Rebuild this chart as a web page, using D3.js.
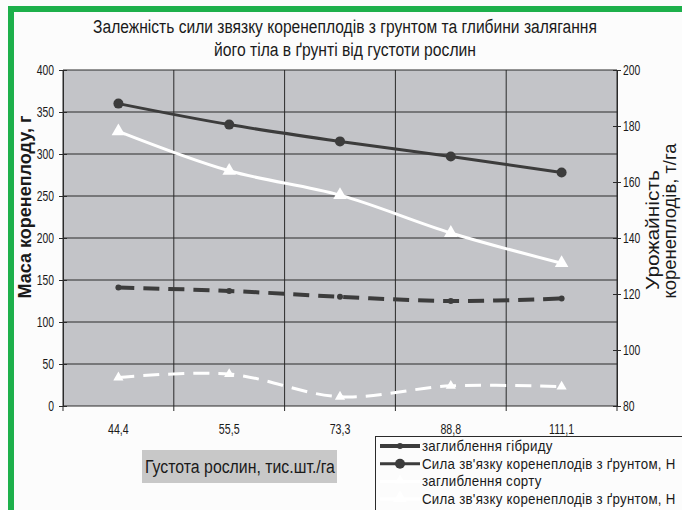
<!DOCTYPE html>
<html>
<head>
<meta charset="utf-8">
<script src="https://cdn.jsdelivr.net/npm/d3@7/dist/d3.min.js"></script>
<style>
  html, body { margin: 0; padding: 0; background: #fcfcfc; }
  svg { display: block; }
  text { font-family: "Liberation Sans", Arial, sans-serif; fill: #1a1a1a; }
</style>
</head>
<body>
<svg id="chart" width="682" height="510"></svg>
<script>
// ---- data ----
const categories = ["44,4", "55,5", "73,3", "88,8", "111,1"];
const depthHybrid = [141, 137, 130, 125, 128];      // заглиблення гібриду
const forceHybrid = [360, 335, 315, 297, 278];      // Сила зв'язку ... (гібрид)
const depthVariety = [34, 38, 11, 24, 23];          // заглиблення сорту
const forceVariety = [327, 280, 251, 206, 170];     // Сила зв'язку ... (сорт)
const leftTicks = [0, 50, 100, 150, 200, 250, 300, 350, 400];
const rightTicks = [80, 100, 120, 140, 160, 180, 200];
const seriesNames = [
  "заглиблення гібриду",
  "Сила зв'язку коренеплодів з ґрунтом, Н",
  "заглиблення сорту",
  "Сила зв'язку коренеплодів з ґрунтом, Н"
];
const titleLines = [
  "Залежність сили звязку коренеплодів з грунтом та глибини залягання",
  "його тіла в ґрунті від густоти рослин"
];

const svg = d3.select("#chart");
const W = 682, H = 510;
const plot = { left: 63, right: 617, top: 70, bottom: 406 };

// squeeze text horizontally (narrow-font look) via a scale transform
function squeeze(sel, px, py, rot, factor) {
  sel.attr("x", 0).attr("y", 0)
    .attr("transform", `translate(${px},${py})` + (rot ? ` rotate(${rot})` : "") + ` scale(${factor},1)`);
}
function squeezeTo(sel, px, py, rot, width) {
  const w = sel.node().getComputedTextLength();
  squeeze(sel, px, py, rot, width / w);
}
function narrow(sel, factor) {
  sel.each(function () {
    const w = this.getComputedTextLength();
    d3.select(this).attr("textLength", w * factor).attr("lengthAdjust", "spacingAndGlyphs");
  });
}

// green frame
svg.append("rect").attr("x", 0).attr("y", 0).attr("width", W).attr("height", H).attr("fill", "#fcfcfc");
svg.append("rect").attr("x", 8).attr("y", 6).attr("width", W + 20).attr("height", 6).attr("fill", "#1db04b");
svg.append("rect").attr("x", 8).attr("y", 6).attr("width", 6).attr("height", H + 20).attr("fill", "#1db04b");

// title
const titleWidths = [504, 262];
titleLines.forEach((t, i) => {
  const el = svg.append("text").attr("text-anchor", "middle").attr("font-size", 19).text(t);
  squeezeTo(el, 345, 33 + i * 23, 0, titleWidths[i]);
});

const x = d3.scaleBand().domain(categories).range([plot.left, plot.right]).paddingInner(0).paddingOuter(0);
const yL = d3.scaleLinear().domain([0, 400]).range([plot.bottom, plot.top]);
const yR = d3.scaleLinear().domain([80, 200]).range([plot.bottom, plot.top]);
const cx = d => x(d) + x.bandwidth() / 2;

// plot background
svg.append("rect").attr("x", plot.left).attr("y", plot.top)
  .attr("width", plot.right - plot.left).attr("height", plot.bottom - plot.top)
  .attr("fill", "#c3c4c8");

// horizontal gridlines
svg.append("g").selectAll("line").data(leftTicks).enter().append("line")
  .attr("x1", plot.left).attr("x2", plot.right)
  .attr("y1", d => yL(d)).attr("y2", d => yL(d))
  .attr("stroke", "#2a2a2a").attr("stroke-width", 1);

// vertical gridlines at category boundaries
const bounds = categories.map(c => x(c)).concat([plot.right]);
svg.append("g").selectAll("line").data(bounds).enter().append("line")
  .attr("x1", d => d).attr("x2", d => d)
  .attr("y1", plot.top).attr("y2", plot.bottom + 5)
  .attr("stroke", "#2a2a2a").attr("stroke-width", 1);

// left axis
const gL = svg.append("g").attr("transform", `translate(${plot.left},0)`)
  .call(d3.axisLeft(yL).tickValues(leftTicks).tickSize(4).tickSizeOuter(0).tickFormat(d3.format("d")));
gL.select(".domain").attr("stroke", "#2a2a2a");
gL.selectAll(".tick line").attr("x2", -4).attr("x1", 4).attr("stroke", "#2a2a2a");
gL.selectAll(".tick text").attr("x", -9).attr("font-size", 14)
  .style("font-family", '"Liberation Sans", Arial, sans-serif').attr("fill", "#1a1a1a");
narrow(gL.selectAll(".tick text"), 0.74);

// right axis
const gR = svg.append("g").attr("transform", `translate(${plot.right},0)`)
  .call(d3.axisRight(yR).tickValues(rightTicks).tickSize(4).tickSizeOuter(0).tickFormat(d3.format("d")));
gR.select(".domain").attr("stroke", "#2a2a2a");
gR.selectAll(".tick line").attr("x1", -4).attr("x2", 4).attr("stroke", "#2a2a2a");
gR.selectAll(".tick text").attr("x", 6).attr("font-size", 14)
  .style("font-family", '"Liberation Sans", Arial, sans-serif').attr("fill", "#1a1a1a");
narrow(gR.selectAll(".tick text"), 0.74);

// x axis labels
const xl = svg.append("g").selectAll("text").data(categories).enter().append("text")
  .attr("x", d => cx(d)).attr("y", 434)
  .attr("text-anchor", "middle").attr("font-size", 14)
  .text(d => d);
narrow(xl, 0.76);

// axis titles
svg.append("text")
  .attr("transform", "translate(31,207) rotate(-90)")
  .attr("text-anchor", "middle").attr("font-size", 18).attr("font-weight", "bold")
  .text("Маса коренеплоду, г");

squeezeTo(svg.append("text").attr("text-anchor", "middle").attr("font-size", 19).text("Урожайність"),
  659, 230, -90, 120);
squeezeTo(svg.append("text").attr("text-anchor", "middle").attr("font-size", 19).text("коренеплодів, т/га"),
  676, 221, -90, 155);

// x title box
svg.append("rect").attr("x", 142).attr("y", 450).attr("width", 195).attr("height", 33).attr("fill", "#c8c8c8");
squeezeTo(svg.append("text").attr("text-anchor", "middle").attr("font-size", 19).text("Густота рослин, тис.шт./га"),
  240, 473, 0, 190);

// series
const series = [
  { name: seriesNames[0], values: depthHybrid, color: "#3c3c3c", width: 4, dash: "16,9", marker: "circle", size: 3 },
  { name: seriesNames[1], values: forceHybrid, color: "#3c3c3c", width: 3, dash: null, marker: "circle", size: 5 },
  { name: seriesNames[2], values: depthVariety, color: "#ffffff", width: 3, dash: "16,9", marker: "triangle", size: 45 },
  { name: seriesNames[3], values: forceVariety, color: "#ffffff", width: 3, dash: null, marker: "triangle", size: 80 }
];

const line = d3.line().x((d, i) => cx(categories[i])).y(d => yL(d)).curve(d3.curveCatmullRom.alpha(0.5));

series.forEach(s => {
  svg.append("path").datum(s.values)
    .attr("d", line)
    .attr("fill", "none")
    .attr("stroke", s.color)
    .attr("stroke-width", s.width)
    .attr("stroke-dasharray", s.dash);
  const g = svg.append("g");
  if (s.marker === "circle") {
    g.selectAll("circle").data(s.values).enter().append("circle")
      .attr("cx", (d, i) => cx(categories[i])).attr("cy", d => yL(d))
      .attr("r", s.size).attr("fill", s.color);
  } else {
    g.selectAll("path").data(s.values).enter().append("path")
      .attr("transform", (d, i) => `translate(${cx(categories[i])},${yL(d)})`)
      .attr("d", d3.symbol().type(d3.symbolTriangle).size(s.size))
      .attr("fill", s.color);
  }
});

// legend
const lg = svg.append("g");
lg.append("rect").attr("x", 375.5).attr("y", 436.5).attr("width", 320).attr("height", 90)
  .attr("fill", "#fcfcfc").attr("stroke", "#2a2a2a").attr("stroke-width", 1);
const legTexts = [];
series.forEach((s, i) => {
  const yy = 446 + i * 17.7;
  lg.append("line").attr("x1", 380).attr("x2", 420).attr("y1", yy).attr("y2", yy)
    .attr("stroke", s.color).attr("stroke-width", s.width);
  if (s.marker === "circle") {
    lg.append("circle").attr("cx", 400).attr("cy", yy).attr("r", s.size).attr("fill", s.color);
  } else {
    lg.append("path").attr("transform", `translate(400,${yy - 1})`)
      .attr("d", d3.symbol().type(d3.symbolTriangle).size(s.size)).attr("fill", s.color);
  }
  legTexts.push({ el: lg.append("text").attr("font-size", 15).attr("letter-spacing", 0.3).text(s.name), y: yy + 5 });
});
const legFactor = 254 / legTexts[1].el.node().getComputedTextLength();
legTexts.forEach(t => squeeze(t.el, 422, t.y, 0, legFactor));
</script>
</body>
</html>
